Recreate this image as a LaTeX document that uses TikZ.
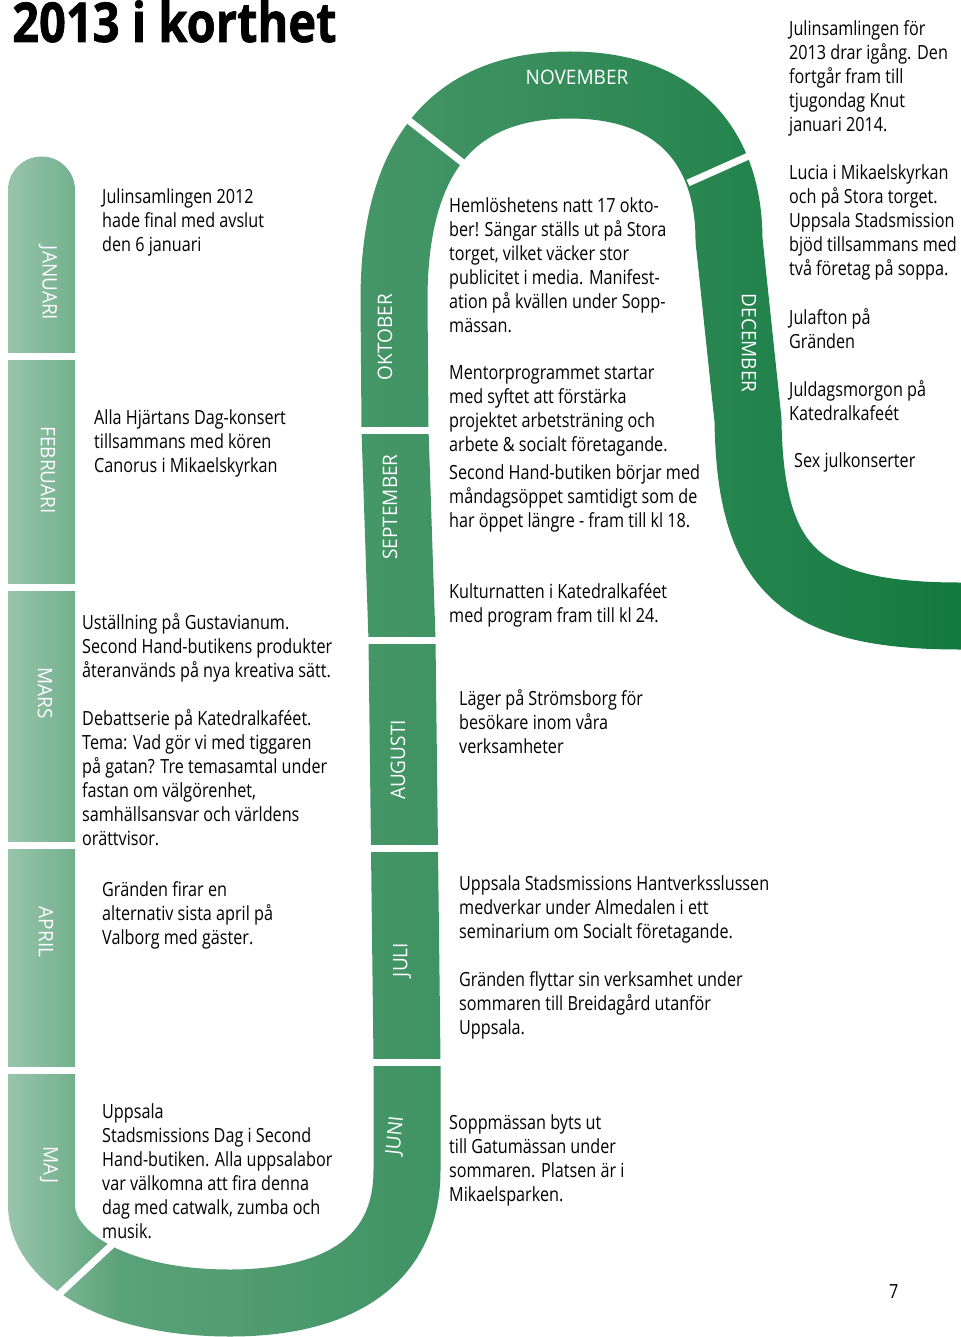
\documentclass[tikz,border=0pt]{standalone}
\usepackage{fontspec}
\setmainfont{Open Sans}[FakeStretch=0.83]
\newfontfamily\titlefont{Open Sans}[FakeStretch=0.855,BoldFeatures={FakeBold=1.2}]
\newfontfamily\monthfont{Open Sans}[FakeStretch=0.95]
\usetikzlibrary{fadings}
\definecolor{snakegreen}{HTML}{137A3F}
\tikzfading[name=lighteast,left color=transparent!0,right color=transparent!100]
\begin{document}
\begin{tikzpicture}[x=1pt,y=-1pt,
  txt/.style={anchor=north west,inner sep=0pt,align=left,font=\fontsize{19.5}{24}\selectfont},
  month/.style={text=white,inner sep=0pt,font=\monthfont\fontsize{20}{20}\selectfont},
  gap/.style={white,line width=7pt}]%
% page 960 x 1337
\useasboundingbox[fill=white] (0,0) rectangle (960,1337);
\draw[snakegreen,line width=67pt,line cap=round,line join=round]
  (41.5,190) -- (41.5,1205)
  .. controls (41.5,1255) and (110,1303) .. (230,1303)
  .. controls (340,1303) and (407,1260) .. (407,1170)
  -- (407,1060) -- (402,640) -- (395,430) -- (394,300)
  .. controls (394,160) and (450,85) .. (570,85)
  .. controls (680,85) and (729,150) .. (729,240)
  -- (748,420)
  .. controls (750,570) and (800,616) .. (960,616) -- (1000,616);
\fill[white,fill opacity=0.35,path fading=lighteast] (0,0) rectangle (960,1337);
\fill[white,fill opacity=0.36,path fading=lighteast] (0,140) rectangle (120,1337);
% month gaps
\draw[gap] (0,356) -- (85,356);
\draw[gap] (0,587) -- (85,587);
\draw[gap] (0,845) -- (85,845);
\draw[gap] (0,1070) -- (85,1070);
\draw[gap] (56,1297) -- (116,1241);
\draw[gap] (355,1062) -- (455,1062);
\draw[gap] (355,848) -- (455,848);
\draw[gap] (350,640) -- (450,640);
\draw[gap] (345,430) -- (445,430);
\draw[gap] (398,112) -- (463,163);
\draw[gap] (688,183) -- (762,150);
% month names
\node[month,rotate=-90] (jan) at (48,283) {JANUARI};
\node[month,rotate=-90] (feb) at (48,470) {FEBRUARI};
\node[month,rotate=-90] (mar) at (45,693) {MARS};
\node[month,rotate=-90] (apr) at (46,932) {APRIL};
\node[month,rotate=-90] (maj) at (49,1165) {MAJ};
\node[month,rotate=84] (jun) at (396,1136) {JUNI};
\node[month,rotate=90] (jul) at (402,960) {JULI};
\node[month,rotate=90] (aug) at (398,760) {AUGUSTI};
\node[month,rotate=90] (sep) at (390,507) {SEPTEMBER};
\node[month,rotate=90] (okt) at (385,337) {OKTOBER};
\node[month] (nov) at (577,77) {NOVEMBER};
\node[month,rotate=-90] (dec) at (749,343) {DECEMBER};
% texts
\node[anchor=base west,inner sep=0pt,font={\titlefont\bfseries\fontsize{55}{60}\selectfont}] (title) at (12,42) {2013 i korthet};
\node[txt] (tjan) at (102,188) {Julinsamlingen 2012\\hade final med avslut\\den 6 januari};
\node[txt] (tfeb) at (94,409) {Alla Hjärtans Dag-konsert\\tillsammans med kören\\Canorus i Mikaelskyrkan};
\node[txt] (tmar) at (82,613) {Uställning på Gustavianum.\\Second Hand-butikens produkter\\återanvänds på nya kreativa sätt.};
\node[txt] (tmarb) at (82,709) {Debattserie på Katedralkaféet.\\Tema: Vad gör vi med tiggaren\\på gatan? Tre temasamtal under\\fastan om välgörenhet,\\samhällsansvar och världens\\orättvisor.};
\node[txt] (tapr) at (102,881) {Gränden firar en\\alternativ sista april på\\Valborg med gäster.};
\node[txt] (tmaj) at (102,1103) {Uppsala\\Stadsmissions Dag i Second\\Hand-butiken. Alla uppsalabor\\var välkomna att fira denna\\dag med catwalk, zumba och\\musik.};
\node[txt] (tokt) at (449,197) {Hemlöshetens natt 17 okto-\\ber! Sängar ställs ut på Stora\\torget, vilket väcker stor\\publicitet i media. Manifest-\\ation på kvällen under Sopp-\\mässan.};
\node[txt] (toktb) at (449,365) {Mentorprogrammet startar\\med syftet att förstärka\\projektet arbetsträning och\\arbete \& socialt företagande.};
\node[txt] (tsep) at (449,464) {Second Hand-butiken börjar med\\måndagsöppet samtidigt som de\\har öppet längre - fram till kl 18.};
\node[txt] (taug) at (449,583) {Kulturnatten i Katedralkaféet\\med program fram till kl 24.};
\node[txt] (taugb) at (459,689) {Läger på Strömsborg för\\besökare inom våra\\verksamheter};
\node[txt] (tjul) at (459,875) {Uppsala Stadsmissions Hantverksslussen\\medverkar under Almedalen i ett\\seminarium om Socialt företagande.};
\node[txt] (tjulb) at (459,971) {Gränden flyttar sin verksamhet under\\sommaren till Breidagård utanför\\Uppsala.};
\node[txt] (tjun) at (449,1114) {Soppmässan byts ut\\till Gatumässan under\\sommaren. Platsen är i\\Mikaelsparken.};
\node[txt] (tnov) at (789,20) {Julinsamlingen för\\2013 drar igång. Den\\fortgår fram till\\tjugondag Knut\\januari 2014.};
\node[txt] (tdec) at (789,164) {Lucia i Mikaelskyrkan\\och på Stora torget.\\Uppsala Stadsmission\\bjöd tillsammans med\\två företag på soppa.};
\node[txt] (tdecb) at (789,308) {Julafton på\\Gränden};
\node[txt] (tdecc) at (789,380) {Juldagsmorgon på\\Katedralkafeét};
\node[txt] (tdecd) at (794,452) {Sex julkonserter};
\node[txt] (page) at (889,1284) {7};
\end{tikzpicture}
\end{document}
